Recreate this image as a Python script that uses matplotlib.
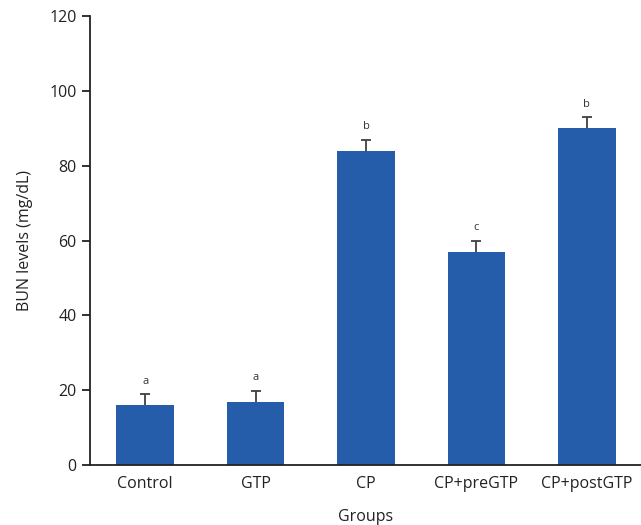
import matplotlib.pyplot as plt
import numpy as np

plt.rcParams['font.family'] = ['Open Sans', 'DejaVu Sans']

groups = ['Control', 'GTP', 'CP', 'CP+preGTP', 'CP+postGTP']
bun_mean = [16.0, 16.8, 83.9, 56.9, 90.1]
bun_err = [2.9, 3.0, 3.0, 3.0, 2.9]
letters = ['a', 'a', 'b', 'c', 'b']

fig = plt.figure(figsize=(6.41, 5.25), dpi=100)
ax = fig.add_axes([0.1404, 0.1143, 0.8596, 0.8552])

x = np.arange(len(groups))
ax.bar(x, bun_mean, width=0.52, color='#265DAB', zorder=2)
# upper error only, no cap at the bar top
eb = ax.errorbar(x, bun_mean, yerr=[np.zeros(len(x)), bun_err], fmt='none',
                 ecolor='#404040', elinewidth=1.3, capsize=3.8, capthick=1.3, zorder=3)
eb[1][0].set_visible(False)
for xi, m, e, lab in zip(x, bun_mean, bun_err, letters):
    ax.text(xi, m + e + 2.0, lab, ha='center', va='bottom', fontsize=8, color='#333333')

ax.set_xlim(-0.5, 4.49)
ax.set_ylim(0, 120)
ax.set_yticks(np.arange(0, 121, 20))
ax.set_xticks(x)
ax.set_xticklabels(groups)
ax.tick_params(axis='x', length=0, pad=8, labelsize=11.5, colors='#222222')
ax.tick_params(axis='y', length=6, width=1.3, labelsize=11.5, colors='#222222')

for s in ['top', 'right']:
    ax.spines[s].set_visible(False)
for s in ['left', 'bottom']:
    ax.spines[s].set_linewidth(1.3)
    ax.spines[s].set_color('#222222')

ax.set_xlabel('Groups', fontsize=11.5, labelpad=12, color='#222222')
ax.set_ylabel('BUN levels (mg/dL)', fontsize=11.5, labelpad=12, color='#222222')

fig.savefig('out.png', dpi=100)
